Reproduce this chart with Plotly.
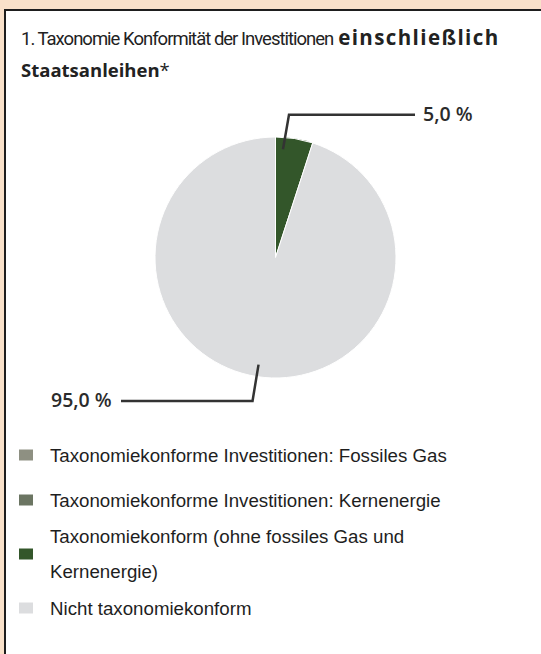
import math
import plotly.graph_objects as go

# ---- data ----
categories = [
    "Taxonomiekonforme Investitionen: Fossiles Gas",
    "Taxonomiekonforme Investitionen: Kernenergie",
    "Taxonomiekonform (ohne fossiles Gas und<br>Kernenergie)",
    "Nicht taxonomiekonform",
]
values = [0.0, 0.0, 5.0, 95.0]
colors = ["#8e9082", "#6b7562", "#33562a", "#dcdddf"]
value_labels = ["", "", "5,0 %", "95,0 %"]

W, H = 541, 654
# pie placement (pixels)
cx, cy, R = 275.5, 257.5, 120.5

fig = go.Figure()
fig.add_trace(go.Pie(
    labels=categories, values=values, sort=False, direction="clockwise",
    rotation=0, marker=dict(colors=colors, line=dict(color="white", width=1)),
    textinfo="none", hoverinfo="label+percent", showlegend=False,
    domain=dict(x=[(cx - R) / W, (cx + R) / W], y=[1 - (cy + R) / H, 1 - (cy - R) / H]),
))

def px(x):
    return x / W

def py(y):
    return 1 - y / H

shapes = []
annotations = []

# background panel
shapes.append(dict(type="rect", xref="paper", yref="paper",
                   x0=px(5), x1=px(W + 10), y0=py(H + 10), y1=py(10),
                   fillcolor="white", line=dict(color="#1e1e1e", width=2), layer="below"))

# leader lines computed from slice angles
total = sum(values)
cum = 0.0
for v, lab in zip(values, value_labels):
    if v <= 0:
        cum += v
        continue
    start_ang = cum / total * 2 * math.pi
    span = v / total * 2 * math.pi
    cum += v
    upper = math.cos(start_ang + span / 2) > 0
    ang = start_ang + span * (0.22 if upper else 0.5)
    sx = cx + 0.9 * R * math.sin(ang)
    sy = cy - 0.9 * R * math.cos(ang)
    if upper:  # label to the right, above pie
        ey = cy - 1.185 * R
        ex = sx + 6
        hx = 415
        anchor, tx = "left", 421
    else:
        ey = cy + 1.19 * R
        ex = sx - 6
        hx = 121
        anchor, tx = "right", 114
    shapes.append(dict(type="path", xref="paper", yref="paper",
                       path=f"M {px(sx)},{py(sy)} L {px(ex)},{py(ey)} L {px(hx)},{py(ey)}",
                       line=dict(color="#333333", width=2.5)))
    annotations.append(dict(x=px(tx), y=py(ey - 1), xref="paper", yref="paper",
                            text=lab, showarrow=False, xanchor=anchor, yanchor="middle",
                            font=dict(family="Open Sans", size=19.5, color="#2b2b2b", weight=600)))

# title
annotations.append(dict(
    x=px(19), y=py(37), xref="paper", yref="paper", xanchor="left", yanchor="middle",
    showarrow=False, align="left",
    text=("<span style='font-family:Roboto;letter-spacing:-1px'>1. Taxonomie Konformität der Investitionen</span> "
          "<span style='font-size:20.5px;letter-spacing:1.4px'><b>einschließlich</b></span>"),
    font=dict(family="Open Sans", size=18.5, color="#222222")))
annotations.append(dict(
    x=px(19), y=py(70), xref="paper", yref="paper", xanchor="left", yanchor="middle",
    showarrow=False, align="left", text="<b>Staatsanleihen</b>*",
    font=dict(family="Open Sans", size=18.5, color="#222222")))

# legend (manual)
legend_rows = [455, 500, 554, 608]
line_gap = 35
for lab, col, yc in zip(categories, colors, legend_rows):
    shapes.append(dict(type="rect", xref="paper", yref="paper",
                       x0=px(19), x1=px(33), y0=py(yc + 5.5), y1=py(yc - 5.5),
                       fillcolor=col, line=dict(width=0)))
    parts = lab.split("<br>")
    y0 = yc - line_gap * (len(parts) - 1) / 2
    for i, part in enumerate(parts):
        annotations.append(dict(x=px(48), y=py(y0 + i * line_gap), xref="paper", yref="paper",
                                text=part, showarrow=False, xanchor="left", yanchor="middle",
                                align="left",
                                font=dict(family="Liberation Sans", size=18.7, color="#1e1e1e")))

fig.update_layout(
    width=W, height=H, margin=dict(l=0, r=0, t=0, b=0),
    paper_bgcolor="#f9e1ca", plot_bgcolor="white",
    shapes=shapes, annotations=annotations,
)
fig.write_html("out.html", config={"displayModeBar": False},
               post_script="document.body.style.margin='0';document.body.style.overflow='hidden';")
